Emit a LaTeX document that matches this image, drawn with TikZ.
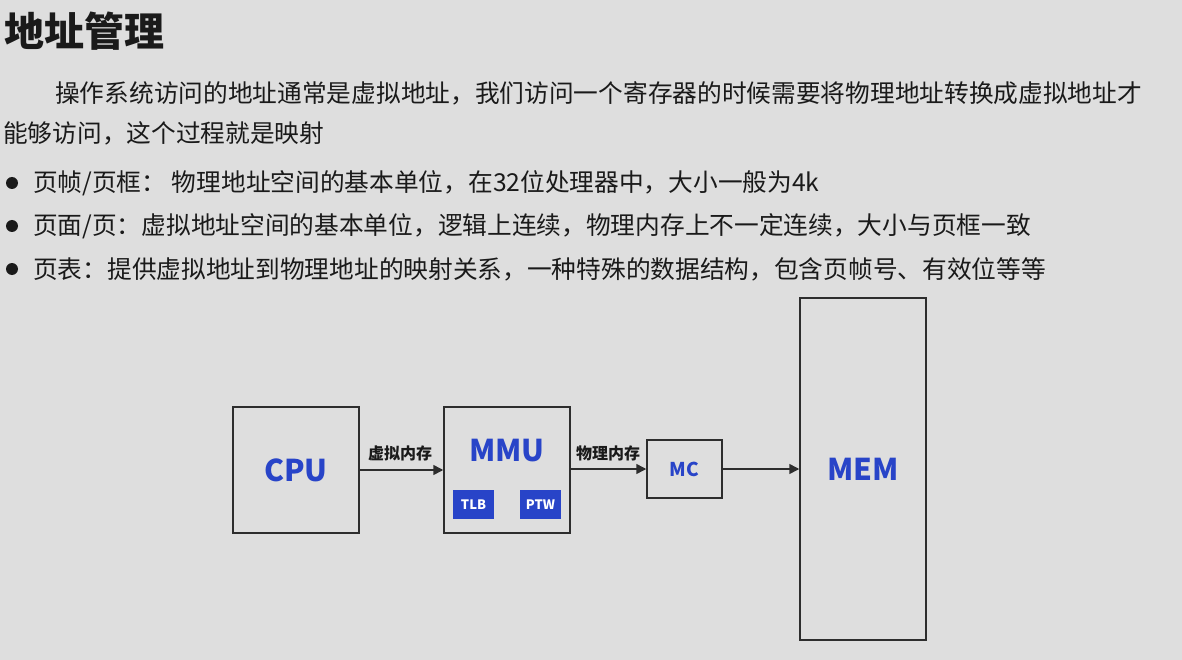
\documentclass[tikz,border=0pt]{standalone}
\usepackage{fontspec}
\setmainfont{Noto Sans CJK SC}
\usetikzlibrary{arrows.meta}
\definecolor{bg}{RGB}{222,222,222}
\definecolor{ink}{RGB}{26,26,26}
\definecolor{blk}{RGB}{45,45,45}
\definecolor{blu}{RGB}{40,68,200}
\begin{document}
\begin{tikzpicture}[x=1pt,y=-1pt,
  box/.style={draw=blk,line width=1.5pt,inner sep=0},
  lbl/.style={inner sep=0,anchor=base west,text=ink},
  body/.style={font=\fontsize{24.7}{24.7}\selectfont},
  dot/.style={circle,fill=ink,minimum size=12pt,inner sep=0},
  big/.style={text=blu,font=\fontsize{30}{30}\selectfont\bfseries,inner sep=0},
  tag/.style={fill=blu,text=white,minimum width=41pt,minimum height=29pt,inner sep=0,font=\fontsize{13}{13}\selectfont\bfseries},
  alabel/.style={inner sep=0,text=ink,font=\fontsize{16}{16}\selectfont\bfseries},
  arr/.style={draw=blk,line width=1.5pt,-{Triangle[length=10pt,width=10pt]}}]
\fill[bg] (0,0) rectangle (1182,660);
\useasboundingbox (0,0) rectangle (1182,660);

\node[lbl,font=\fontsize{40}{40}\selectfont\bfseries] (title) at (4,47) {地址管理};
\node[lbl,body] (p1) at (55,103) {操作系统访问的地址通常是虚拟地址，我们访问一个寄存器的时候需要将物理地址转换成虚拟地址才};
\node[lbl,body] (p2) at (3,143) {能够访问，这个过程就是映射};

\node[dot] (d1) at (12,183) {};
\node[lbl,body] (b1) at (33,192) {页帧/页框： 物理地址空间的基本单位，在32位处理器中，大小一般为4k};
\node[dot] (d2) at (12,226) {};
\node[lbl,body] (b2) at (33,235) {页面/页：虚拟地址空间的基本单位，逻辑上连续，物理内存上不一定连续，大小与页框一致};
\node[dot] (d3) at (12,269) {};
\node[lbl,body] (b3) at (33,278) {页表：提供虚拟地址到物理地址的映射关系，一种特殊的数据结构，包含页帧号、有效位等等};

\node[box,minimum width=126pt,minimum height=126pt] (cpu) at (296,470) {};
\node[big] (cput) at (cpu.center) {CPU};
\node[box,minimum width=126pt,minimum height=126pt] (mmu) at (507,470) {};
\node[big] (mmut) at (507,451) {MMU};
\node[tag] (tlb) at (473.5,504.5) {TLB};
\node[tag] (ptw) at (540.5,504.5) {PTW};
\node[box,minimum width=75pt,minimum height=58pt] (mc) at (684.5,469) {};
\node[text=blu,inner sep=0,font=\fontsize{19}{19}\selectfont\bfseries] (mct) at (mc.center) {MC};
\node[box,minimum width=126pt,minimum height=342pt] (mem) at (863,469) {};
\node[big] (memt) at (mem.center) {MEM};

\draw[arr] (cpu.east) -- (mmu.west);
\draw[arr] (mmu.east |- mc.west) -- (mc.west);
\draw[arr] (mc.east) -- (mc.east -| mem.west);
\node[alabel] (l1) at (400,453) {虚拟内存};
\node[alabel] (l2) at (608,453) {物理内存};
\end{tikzpicture}
\end{document}
